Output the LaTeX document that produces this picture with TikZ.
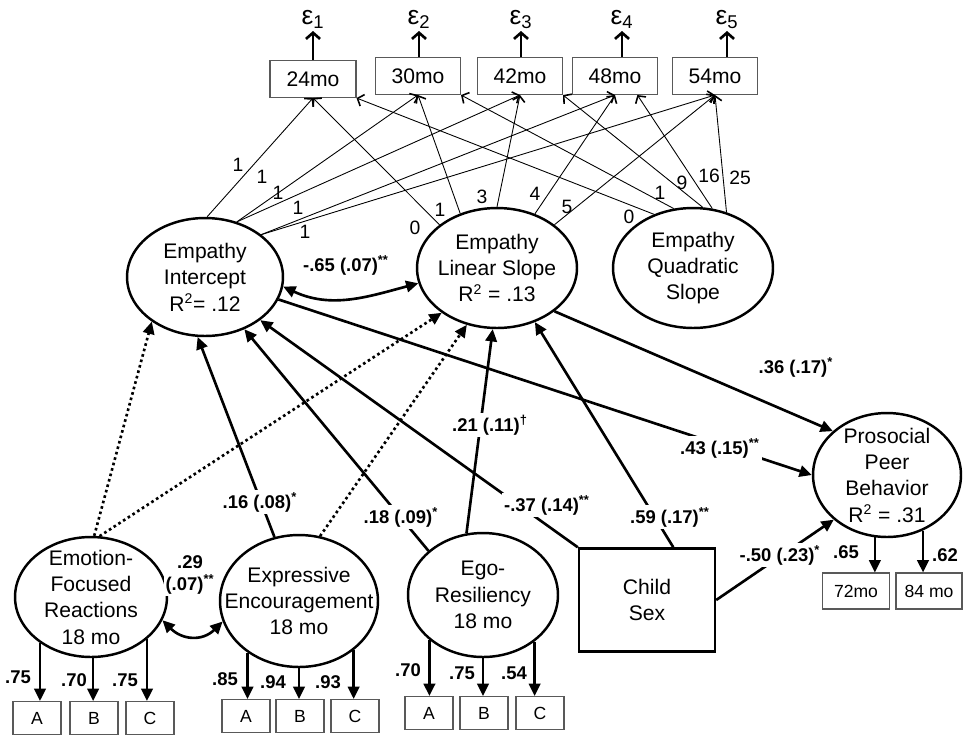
\documentclass[tikz,border=0pt]{standalone}
\usepackage{fontspec}
\setmainfont{Liberation Sans}
\usetikzlibrary{shapes.geometric,arrows.meta,calc}
\tikzset{
  latent/.style={ellipse, draw, line width=1.4pt, inner sep=0pt},
  lattext/.style={align=center, font=\fontsize{12}{15}\selectfont},
  timebox/.style={draw=black!65, line width=0.6pt, minimum width=1.7cm, minimum height=0.74cm, font=\fontsize{12}{14}\selectfont},
  itembox/.style={draw=black!65, line width=0.6pt, minimum width=0.96cm, minimum height=0.66cm, font=\fontsize{10}{12}\selectfont},
  effect/.style={line width=1.5pt, -{Triangle[length=7pt,width=6.5pt]}},
  weak/.style={effect, dash pattern=on 1.5pt off 1.7pt},
  corr/.style={line width=1.5pt, {Triangle[length=7pt,width=6.5pt]}-{Triangle[length=7pt,width=6.5pt]}},
  load/.style={line width=0.5pt, -{Straight Barb[length=3pt,width=7pt,line width=0.9pt]}},
  err/.style={line width=1.5pt, -{Straight Barb[length=3.5pt,width=8pt]}},
  coef/.style={align=center, font=\bfseries\fontsize{10.5}{12.5}\selectfont, fill=white, inner sep=1pt},
  ldg/.style={coef, fill=none},
  lnum/.style={font=\fontsize{11}{12}\selectfont, inner sep=0.5pt}
}
\begin{document}
\begin{tikzpicture}[x=0.02cm, y=-0.02cm]
  \useasboundingbox (0,0) rectangle (963,741);

  \node[latent, minimum width=3.12cm, minimum height=2.36cm,
    label={[lattext]center:{Empathy\\Intercept\\R\textsuperscript{2}= .12}}] (int) at (205,277) {};
  \node[latent, minimum width=3.2cm, minimum height=2.4cm,
    label={[lattext]center:{Empathy\\Linear Slope\\R\textsuperscript{2} = .13}}] (lin) at (497,268) {};
  \node[latent, minimum width=3.2cm, minimum height=2.4cm,
    label={[lattext]center:{Empathy\\Quadratic\\Slope}}] (quad) at (693,268) {};
  \node[latent, minimum width=2.96cm, minimum height=2.48cm,
    label={[lattext]center:{Prosocial\\Peer\\Behavior\\R\textsuperscript{2} = .31}}] (ppb) at (887,475) {};
  \node[latent, minimum width=3.04cm, minimum height=2.4cm,
    label={[lattext]center:{Emotion-\\Focused\\Reactions\\18 mo}}] (efr) at (91,597) {};
  \node[latent, minimum width=3.16cm, minimum height=2.64cm,
    label={[lattext]center:{Expressive\\Encouragement\\18 mo}}] (ee) at (299,601) {};
  \node[latent, minimum width=3.0cm, minimum height=2.48cm,
    label={[lattext]center:{Ego-\\Resiliency\\18 mo}}] (er) at (483,595) {};
  \node[draw, line width=1.4pt, minimum width=2.72cm, minimum height=2.06cm, lattext] (sex) at (647,600) {Child\\Sex};

  \node[timebox, minimum width=1.72cm] (m24) at (313,79) {24mo};
  \node[timebox] (m30) at (418,76) {30mo};
  \node[timebox] (m42) at (520,76) {42mo};
  \node[timebox] (m48) at (615,76) {48mo};
  \node[timebox] (m54) at (715,76) {54mo};

  \foreach \b/\x/\i in {m24/313/1, m30/419/2, m42/521/3, m48/622/4, m54/727/5} {
    \node[font=\fontsize{15}{16}\selectfont, anchor=south, inner sep=1pt] (eps\i) at (\x,31) {ε\textsubscript{\i}};
    \draw[err] (eps\i.south |- \b.north) -- (eps\i.south);
  }

  \coordinate (m48q) at ($(m48.south)!0.52!(m48.south east)$);
  \foreach \s/\t in {int.88/m24.south, int.60/m30.south, int.60/m42.south, int.37/m48.south, int.37/m54.south,
      lin.143/m24.south, lin.124/m30.south, lin.90/m42.south, lin.55/m48.south, lin.37/m54.south,
      quad.126/m24.south east, quad.108/m30.south east, quad.81/m42.south east, quad.72/m48q, quad.59/m54.south}
    \draw[load] (\s) -- (\t);

  \foreach \x/\y/\t [count=\i] in {238/165/1, 262/177/1, 278/193/1, 298/208/1, 305/232/1,
      415/228/0, 440/210/1, 482/197/3, 535/194/4, 567/207/5,
      629/217/0, 660/193/1, 682/183/9, 709/176/16, 740/178/25}
    \node[lnum] (n\i) at (\x,\y) {\t};

  \foreach \n/\x/\a in {A/37/222, B/94/272, C/150/323} {
    \node[itembox] (efr\n) at (\x,718) {\n};
    \draw[effect] (efr.\a) -- (efr.\a |- efr\n.north);
  }
  \foreach \n/\x/\a in {A/246/225, B/300/270, C/355/318} {
    \node[itembox] (ee\n) at (\x,716) {\n};
    \draw[effect] (ee.\a) -- (ee.\a |- ee\n.north);
  }
  \foreach \n/\x/\a in {A/429/220, B/484/270, C/540/318} {
    \node[itembox] (er\n) at (\x,713) {\n};
    \draw[effect] (er.\a) -- (er.\a |- er\n.north);
  }
  \node[itembox, minimum width=1.34cm, minimum height=0.72cm] (p72) at (856,591) {72mo};
  \node[itembox, minimum width=1.32cm, minimum height=0.72cm] (p84) at (929,591) {84 mo};
  \draw[effect] (ppb.259) -- (ppb.259 |- p72.north);
  \draw[effect] (ppb.303) -- (ppb.303 |- p84.north);

  \coordinate (sexq) at ($(sex.north west)!0.69!(sex.north east)$);
  \draw[corr] (int.-7) to[out=-25, in=195] (lin.191);
  \draw[corr] (efr.-18) to[out=-45, in=-135, looseness=1.2] (ee.195);
  \draw[weak] (efr.87) -- (int.220);
  \draw[weak] (efr.82) -- (lin.219);
  \draw[effect] (ee.111) -- (int.263);
  \draw[weak] (ee.72) -- (lin.242);
  \draw[effect] (er.141) -- (int.-53);
  \draw[effect] (er.105) -- (lin.266);
  \draw[effect] (sex.north west) -- (int.-38);
  \draw[effect] (sexq) -- (lin.-55);
  \draw[effect] (int.-17) -- (ppb.180);
  \draw[effect] (lin.-37) -- (ppb.141);
  \draw[effect] (sex.east) -- (ppb.220);

  \foreach \x/\y/\t [count=\i] in {346/265/-.65 (.07)\textsuperscript{**}, 260/502/.16 (.08)\textsuperscript{*},
      401/517/.18 (.09)\textsuperscript{*}, 190/575/.29\\(.07)\textsuperscript{**},
      490/425/.21 (.11)\textsuperscript{\textdagger}, 547/505/-.37 (.14)\textsuperscript{**},
      670/517/.59 (.17)\textsuperscript{**}, 796/367/.36 (.17)\textsuperscript{*},
      720/448/.43 (.15)\textsuperscript{**}, 780/555/-.50 (.23)\textsuperscript{*}}
    \node[coef] (c\i) at (\x,\y) {\t};

  \foreach \x/\y/\t [count=\i] in {18/677/.75, 74/680/.70, 125/680/.75, 225/679/.85, 273/682/.94, 328/682/.93,
      408/670/.70, 462/673/.75, 514/673/.54, 846/552/.65, 945/555/.62}
    \node[ldg] (d\i) at (\x,\y) {\t};
\end{tikzpicture}
\end{document}
